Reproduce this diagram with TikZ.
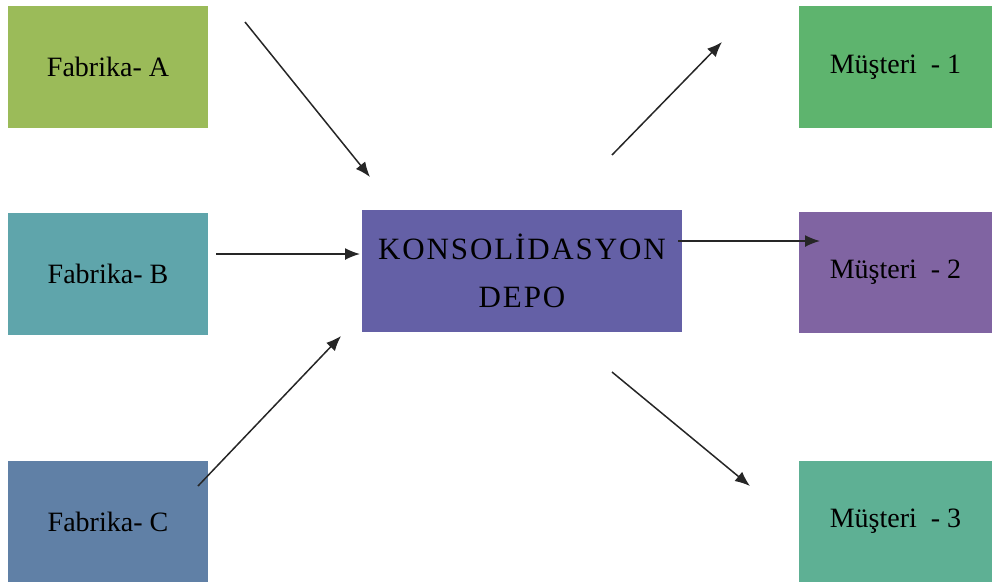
\documentclass[tikz,border=0pt]{standalone}
\usepackage{fontspec}
\setmainfont{Liberation Serif}
\usetikzlibrary{arrows.meta}
\definecolor{cA}{HTML}{9BBB59}
\definecolor{cB}{HTML}{5FA5AB}
\definecolor{cC}{HTML}{6080A6}
\definecolor{cD}{HTML}{6460A6}
\definecolor{cM1}{HTML}{5EB46E}
\definecolor{cM2}{HTML}{8064A2}
\definecolor{cM3}{HTML}{5EB094}
\begin{document}
\begin{tikzpicture}[x=1pt,y=-1pt,
  box/.style={draw=none, inner sep=0pt, align=center, text=black,
    font=\fontsize{28}{30}\selectfont},
  arr/.style={line width=1.5pt, draw=black!85, -{Latex[length=15pt,width=12pt]}}]
\useasboundingbox (0,0) rectangle (992,582);
% left column
\node[box, fill=cA, minimum width=200pt, minimum height=122pt] (fa) at (108,67) {Fabrika- A};
\node[box, fill=cB, minimum width=200pt, minimum height=122pt] (fb) at (108,274) {Fabrika- B};
\node[box, fill=cC, minimum width=200pt, minimum height=121pt] (fc) at (108,521.5) {Fabrika- C};
% center
\node[box, fill=cD, minimum width=320pt, minimum height=122pt,
  font=\fontsize{31}{48}\selectfont\addfontfeatures{LetterSpace=6}] (dep) at (522,271) {KONSOLİDASYON\\DEPO};
% right column
\node[box, fill=cM1, minimum width=193pt, minimum height=122pt] (m1) at (895.5,67) {Müşteri~ - 1};
\node[box, fill=cM2, minimum width=193pt, minimum height=121pt] (m2) at (895.5,272.5) {Müşteri~ - 2};
\node[box, fill=cM3, minimum width=193pt, minimum height=121pt] (m3) at (895.5,521.5) {Müşteri~ - 3};
% arrow end points
\coordinate (a1) at (245,22);   \coordinate (a2) at (370,177);
\coordinate (b1) at (216,254);  \coordinate (b2) at (360,254);
\coordinate (c1) at (198,486);  \coordinate (c2) at (341,336);
\coordinate (d1) at (612,155);  \coordinate (d2) at (722,42);
\coordinate (e1) at (678,241);  \coordinate (e2) at (820,241);
\coordinate (f1) at (612,372);  \coordinate (f2) at (750,486);
\draw[arr] (a1) -- (a2);
\draw[arr] (b1) -- (b2);
\draw[arr] (c1) -- (c2);
\draw[arr] (d1) -- (d2);
\draw[arr] (e1) -- (e2);
\draw[arr] (f1) -- (f2);
\end{tikzpicture}
\end{document}
